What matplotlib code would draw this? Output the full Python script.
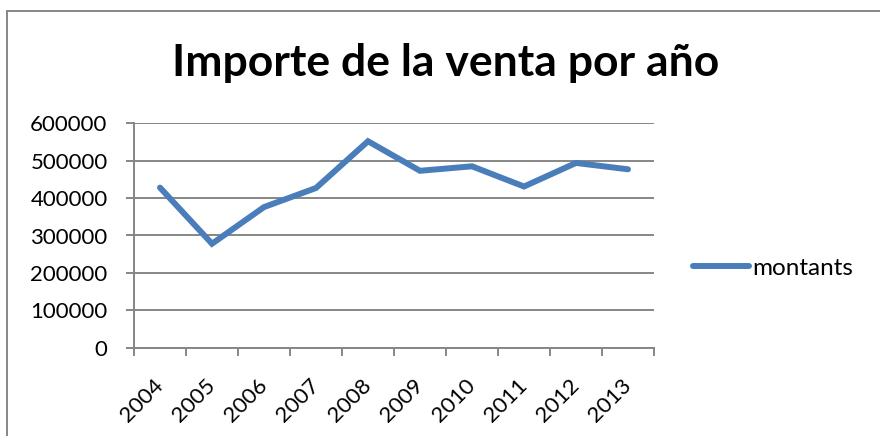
import matplotlib.pyplot as plt
from matplotlib.patches import Rectangle

years = ['2004', '2005', '2006', '2007', '2008', '2009', '2010', '2011', '2012', '2013']
montants = [428000, 278000, 376000, 427000, 552000, 473000, 485000, 431000, 494000, 477000]
y_ticks = [0, 100000, 200000, 300000, 400000, 500000, 600000]

plt.rcParams['font.family'] = ['Lato', 'DejaVu Sans']

W, H = 880, 436
fig = plt.figure(figsize=(W / 100, H / 100), dpi=100)
ax = fig.add_axes([134 / W, 1 - 347.7 / H, (654 - 134) / W, (347.7 - 123.3) / H])

grey = '#868686'
blue = '#4a7ebb'

x = range(len(years))
ax.plot(x, montants, color=blue, linewidth=4.3, solid_capstyle='round',
        solid_joinstyle='miter', label='montants')

ax.set_xlim(-0.5, len(years) - 0.5)
ax.set_ylim(0, 600000)
ax.set_yticks(y_ticks)
ax.set_yticklabels([str(v) for v in y_ticks])
# category boundaries carry the tick marks, centres carry the labels
ax.set_xticks([i - 0.5 for i in range(len(years) + 1)])
ax.set_xticklabels([])
ax.set_xticks(list(x), minor=True)
ax.set_xticklabels(years, minor=True, rotation=45, ha='right', va='center',
                   rotation_mode='anchor')

ax.grid(axis='y', color=grey, linewidth=1.4)
ax.set_axisbelow(True)
for side in ['top', 'right']:
    ax.spines[side].set_visible(False)
for side in ['left', 'bottom']:
    ax.spines[side].set_color(grey)
    ax.spines[side].set_linewidth(1.4)

ax.tick_params(axis='y', which='major', direction='out', length=6, width=1.4,
               color=grey, pad=13, labelsize=16, labelcolor='black')
ax.tick_params(axis='x', which='major', direction='out', length=5.5, width=1.4,
               color=grey)
ax.tick_params(axis='x', which='minor', length=0, pad=25, labelsize=16,
               labelcolor='black')

fig.text(446 / W, 1 - 76 / H, 'Importe de la venta por año', ha='center',
         va='baseline', fontsize=32, fontweight='bold')

ax.legend(loc='center left', bbox_to_anchor=(693 / W, 1 - 268 / H),
          bbox_transform=fig.transFigure, frameon=False, borderpad=0,
          borderaxespad=0, handlelength=2.3, handletextpad=0.15, fontsize=17.5)

# chart area border
fig.add_artist(Rectangle((7 / W, -0.1), 1.2, 1.1 - 11 / H, transform=fig.transFigure,
                         fill=False, edgecolor=grey, linewidth=1.4))

fig.savefig('out.png', dpi=100)
